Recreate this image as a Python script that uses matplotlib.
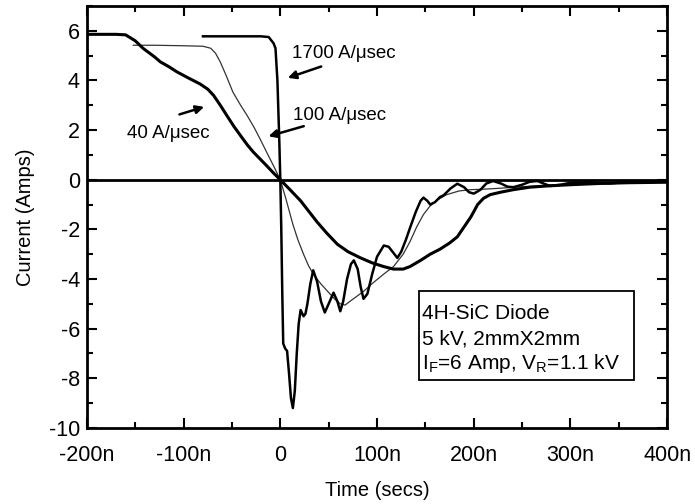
import matplotlib
matplotlib.use("Agg")
import matplotlib.pyplot as plt
from matplotlib.patches import Rectangle
from matplotlib.ticker import MultipleLocator

plt.rcParams['font.family'] = ['Liberation Sans', 'DejaVu Sans']
plt.rcParams['axes.unicode_minus'] = False

# Reverse recovery current traces, time in ns, current in A
t_40 = [-200, -170, -160, -150, -142, -130, -124, -115, -107, -95, -83, -75, -69, -62,
        -55, -48, -41, -34, -28, -20, -14, -7, 0, 10, 21, 30, 38, 48, 59, 70, 83, 95,
        107, 117, 127, 134, 145, 155, 165, 175, 183, 190, 197, 204, 210, 217, 228, 241,
        258, 276, 300, 330, 360, 400]
i_40 = [5.86, 5.86, 5.84, 5.6, 5.3, 4.95, 4.75, 4.55, 4.35, 4.1, 3.86, 3.65, 3.4, 3.0,
        2.57, 2.15, 1.77, 1.4, 1.12, 0.8, 0.56, 0.27, 0.0, -0.4, -0.85, -1.3, -1.7, -2.15,
        -2.6, -2.9, -3.15, -3.35, -3.5, -3.6, -3.6, -3.5, -3.25, -3.0, -2.8, -2.55, -2.3,
        -1.9, -1.5, -1.0, -0.75, -0.6, -0.5, -0.4, -0.3, -0.25, -0.2, -0.15, -0.12, -0.1]

t_100 = [-152, -130, -100, -80, -72, -67, -62, -56, -49, -41, -34, -27, -21, -14, -7, 0,
         6, 13, 18, 24, 29, 34, 42, 49, 56, 62, 67, 72, 79, 86, 96, 107, 117, 127, 134,
         141, 148, 155, 163, 172, 185, 197, 210, 224, 250, 280, 320, 360, 400]
i_100 = [5.42, 5.42, 5.4, 5.38, 5.3, 5.1, 4.74, 4.2, 3.53, 3.0, 2.57, 2.1, 1.65, 1.1,
         0.56, 0.0, -0.8, -1.8, -2.4, -3.0, -3.45, -3.8, -4.2, -4.5, -4.8, -5.0, -5.05,
         -4.9, -4.7, -4.5, -4.15, -3.8, -3.5, -3.0, -2.5, -1.9, -1.4, -1.05, -0.8, -0.6,
         -0.45, -0.4, -0.38, -0.35, -0.28, -0.22, -0.15, -0.1, -0.08]

t_1700 = [-80, -60, -40, -20, -12, -9, -7, -5, -3, -1, 0, 1, 2, 3, 5, 7, 9, 11, 13, 15,
          17, 19, 21, 24, 26, 28, 31, 34, 38, 42, 46, 50, 55, 59, 62, 65, 69, 73, 76, 80,
          83, 86, 90, 95, 100, 107, 112, 117, 121, 125, 130, 134, 140, 145, 148, 152, 155,
          160, 165, 169, 176, 183, 190, 195, 200, 207, 213, 220, 228, 235, 241, 250, 258,
          266, 272, 279, 290, 300, 320, 340, 360, 380, 400]
i_1700 = [5.78, 5.78, 5.78, 5.78, 5.75, 5.6, 5.5, 5.3, 4.0, 1.5, 0.0, -2.0, -4.5, -6.6,
          -6.8, -6.9, -7.8, -8.8, -9.2, -8.5, -7.0, -5.8, -5.25, -5.5, -5.4, -5.0, -4.2,
          -3.65, -4.1, -4.9, -5.35, -5.0, -4.55, -4.9, -5.3, -4.9, -4.0, -3.4, -3.25, -3.6,
          -4.3, -4.8, -4.6, -3.8, -3.1, -2.65, -2.7, -2.95, -3.15, -2.9, -2.4, -1.95, -1.3,
          -0.85, -0.72, -0.85, -1.0, -0.9, -0.7, -0.62, -0.35, -0.16, -0.3, -0.5, -0.56,
          -0.4, -0.15, -0.05, -0.15, -0.28, -0.3, -0.2, -0.08, -0.05, -0.15, -0.25, -0.2,
          -0.12, -0.1, -0.15, -0.08, -0.1, -0.05]

x_ticks = [-200, -100, 0, 100, 200, 300, 400]
x_tick_labels = ['-200n', '-100n', '0', '100n', '200n', '300n', '400n']
y_ticks = [-10, -8, -6, -4, -2, 0, 2, 4, 6]
y_tick_labels = ['-10', '-8', '-6', '-4', '-2', '0', '2', '4', '6']

info_lines = ['4H-SiC Diode',
              '5 kV, 2mmX2mm',
              r'I$_\mathregular{F}$=6 Amp, V$_\mathregular{R}$=1.1 kV']

fig = plt.figure(figsize=(6.95, 5.04), dpi=100)
ax = fig.add_axes([0.125, 0.151, 0.835, 0.837])

ax.axhline(0, color='black', lw=2.0, zorder=1)
ax.plot(t_40, i_40, color='black', lw=2.2, zorder=3)
ax.plot(t_100, i_100, color='#333333', lw=0.9, zorder=2)
ax.plot(t_1700, i_1700, color='black', lw=1.8, zorder=3)

ax.set_xlim(-200, 400)
ax.set_ylim(-10, 7)
ax.set_xticks(x_ticks)
ax.set_xticklabels(x_tick_labels)
ax.set_yticks(y_ticks)
ax.set_yticklabels(y_tick_labels)
ax.xaxis.set_minor_locator(MultipleLocator(50))
ax.yaxis.set_minor_locator(MultipleLocator(1))
ax.tick_params(which='both', direction='in', top=True, right=True, width=1.5,
               labelsize=15.5)
ax.tick_params(which='major', length=7)
ax.tick_params(which='minor', length=4)
ax.tick_params(axis='x', pad=12)
ax.tick_params(axis='y', pad=5)
for s in ax.spines.values():
    s.set_linewidth(2.0)

ax.set_xlabel('Time (secs)', fontsize=14.5, labelpad=11)
ax.set_ylabel('Current (Amps)', fontsize=14.5, labelpad=10)

# rate labels with arrows pointing at each trace
arrow = dict(arrowstyle='-|>', color='black', lw=1.8, mutation_scale=12)
ax.annotate('', xy=(5, 4.07), xytext=(45, 4.6), arrowprops=arrow)
ax.text(12, 5.07, '1700 A/\u03bcsec', fontsize=13.5, va='center', ha='left')
ax.annotate('', xy=(-15, 1.72), xytext=(27, 2.19), arrowprops=arrow)
ax.text(13, 2.6, '100 A/\u03bcsec', fontsize=13.5, va='center', ha='left')
ax.annotate('', xy=(-76, 2.97), xytext=(-107, 2.6), arrowprops=arrow)
ax.text(-158, 1.85, '40 A/\u03bcsec', fontsize=13.5, va='center', ha='left')

# device info box
ax.add_patch(Rectangle((143, -8.06), 223, 3.58, fill=False, ec='black', lw=1.3, zorder=4))
for k, line in enumerate(info_lines):
    ax.text(146, -5.4 - 1.0 * k, line, fontsize=15, va='center', ha='left', zorder=5)

fig.savefig('out.png', dpi=100)
